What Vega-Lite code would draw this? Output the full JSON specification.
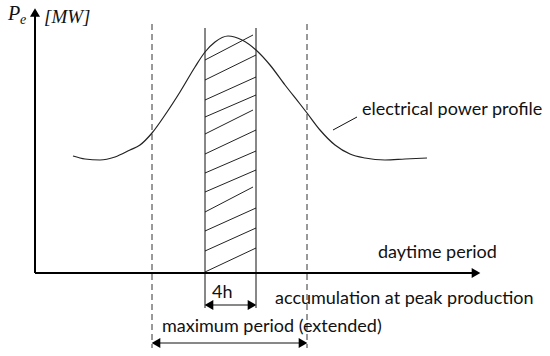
{
  "$schema": "https://vega.github.io/schema/vega-lite/v6.json",
  "width": 550,
  "height": 356,
  "padding": 0,
  "autosize": {"type": "fit", "contains": "padding"},
  "background": "white",
  "config": {"view": {"stroke": null}},
  "datasets": {
    "axes": [
      {"x": 35, "y": 273, "x2": 474, "y2": 273},
      {"x": 35, "y": 273, "x2": 35, "y2": 14}
    ],
    "solid": [
      {"x": 205, "y": 28, "x2": 205, "y2": 308},
      {"x": 256, "y": 28, "x2": 256, "y2": 308},
      {"x": 208, "y": 305, "x2": 253, "y2": 305},
      {"x": 156, "y": 343, "x2": 303, "y2": 343},
      {"x": 333, "y": 130, "x2": 357, "y2": 117}
    ],
    "hatch": [
      {"x": 205, "y": 60, "x2": 253, "y2": 35},
      {"x": 205, "y": 80, "x2": 256, "y2": 55},
      {"x": 205, "y": 100, "x2": 256, "y2": 77},
      {"x": 205, "y": 117, "x2": 256, "y2": 95},
      {"x": 205, "y": 134, "x2": 253, "y2": 110},
      {"x": 205, "y": 154, "x2": 256, "y2": 130},
      {"x": 205, "y": 173, "x2": 256, "y2": 151},
      {"x": 205, "y": 192, "x2": 256, "y2": 170},
      {"x": 205, "y": 212, "x2": 253, "y2": 187},
      {"x": 205, "y": 231, "x2": 256, "y2": 208},
      {"x": 205, "y": 251, "x2": 256, "y2": 228},
      {"x": 205, "y": 272, "x2": 256, "y2": 248}
    ],
    "dashed": [
      {"x": 152, "y": 24, "x2": 152, "y2": 348},
      {"x": 307, "y": 24, "x2": 307, "y2": 348}
    ],
    "curve": [
      {"x": 73, "y": 156}, {"x": 85, "y": 159}, {"x": 100, "y": 160},
      {"x": 115, "y": 157}, {"x": 130, "y": 150}, {"x": 140, "y": 145},
      {"x": 152, "y": 133}, {"x": 165, "y": 115}, {"x": 180, "y": 92},
      {"x": 195, "y": 67}, {"x": 205, "y": 52}, {"x": 215, "y": 42},
      {"x": 228, "y": 36}, {"x": 242, "y": 40}, {"x": 256, "y": 50},
      {"x": 270, "y": 65}, {"x": 285, "y": 85}, {"x": 300, "y": 104},
      {"x": 307, "y": 113}, {"x": 320, "y": 130}, {"x": 335, "y": 145},
      {"x": 350, "y": 154}, {"x": 365, "y": 158}, {"x": 385, "y": 160},
      {"x": 405, "y": 159}, {"x": 427, "y": 158}
    ],
    "heads": [
      {"x": 35, "y": 12.5, "dir": "up"},
      {"x": 476, "y": 273, "dir": "right"},
      {"x": 209, "y": 305, "dir": "left"},
      {"x": 252, "y": 305, "dir": "right"},
      {"x": 156, "y": 343, "dir": "left"},
      {"x": 303, "y": 343, "dir": "right"}
    ],
    "labels": [
      {"x": 378, "y": 253, "text": "daytime period"},
      {"x": 362, "y": 110, "text": "electrical power profile"},
      {"x": 212, "y": 293, "text": "4h"},
      {"x": 275, "y": 299, "text": "accumulation at peak production"},
      {"x": 162, "y": 327, "text": "maximum period (extended)"}
    ],
    "mathP": [{"x": 8, "y": 14, "text": "P"}],
    "mathSub": [{"x": 20, "y": 20, "text": "e"}],
    "mathUnit": [{"x": 44, "y": 17, "text": "[MW]"}]
  },
  "encoding": {
    "x": {"field": "x", "type": "quantitative", "scale": {"domain": [0, 550], "nice": false, "zero": false}, "axis": null},
    "y": {"field": "y", "type": "quantitative", "scale": {"domain": [0, 356], "nice": false, "zero": false, "reverse": true}, "axis": null}
  },
  "layer": [
    {
      "data": {"name": "dashed"},
      "mark": {"type": "rule", "color": "#333", "strokeWidth": 1, "strokeDash": [6, 4]},
      "encoding": {"x2": {"field": "x2"}, "y2": {"field": "y2"}}
    },
    {
      "data": {"name": "hatch"},
      "mark": {"type": "rule", "color": "#222", "strokeWidth": 1},
      "encoding": {"x2": {"field": "x2"}, "y2": {"field": "y2"}}
    },
    {
      "data": {"name": "solid"},
      "mark": {"type": "rule", "color": "#111", "strokeWidth": 1},
      "encoding": {"x2": {"field": "x2"}, "y2": {"field": "y2"}}
    },
    {
      "data": {"name": "axes"},
      "mark": {"type": "rule", "color": "#000", "strokeWidth": 2},
      "encoding": {"x2": {"field": "x2"}, "y2": {"field": "y2"}}
    },
    {
      "data": {"name": "curve"},
      "mark": {"type": "line", "color": "#222", "strokeWidth": 1.2, "interpolate": "monotone"},
      "encoding": {"order": {"field": "x", "type": "quantitative"}}
    },
    {
      "data": {"name": "heads"},
      "mark": {"type": "point", "filled": true, "color": "#000", "opacity": 1, "size": 100},
      "encoding": {
        "shape": {"field": "dir", "type": "nominal", "scale": {"domain": ["up", "right", "left"], "range": ["triangle-up", "triangle-right", "triangle-left"]}, "legend": null}
      }
    },
    {
      "data": {"name": "labels"},
      "mark": {"type": "text", "align": "left", "baseline": "middle", "font": "Lato", "fontSize": 18, "color": "#111"},
      "encoding": {"text": {"field": "text"}}
    },
    {
      "data": {"name": "mathP"},
      "mark": {"type": "text", "align": "left", "baseline": "middle", "font": "Liberation Serif", "fontStyle": "italic", "fontSize": 20, "color": "#111"},
      "encoding": {"text": {"field": "text"}}
    },
    {
      "data": {"name": "mathSub"},
      "mark": {"type": "text", "align": "left", "baseline": "middle", "font": "Liberation Serif", "fontStyle": "italic", "fontSize": 14, "color": "#111"},
      "encoding": {"text": {"field": "text"}}
    },
    {
      "data": {"name": "mathUnit"},
      "mark": {"type": "text", "align": "left", "baseline": "middle", "font": "Liberation Serif", "fontStyle": "italic", "fontSize": 19, "color": "#111"},
      "encoding": {"text": {"field": "text"}}
    }
  ]
}
